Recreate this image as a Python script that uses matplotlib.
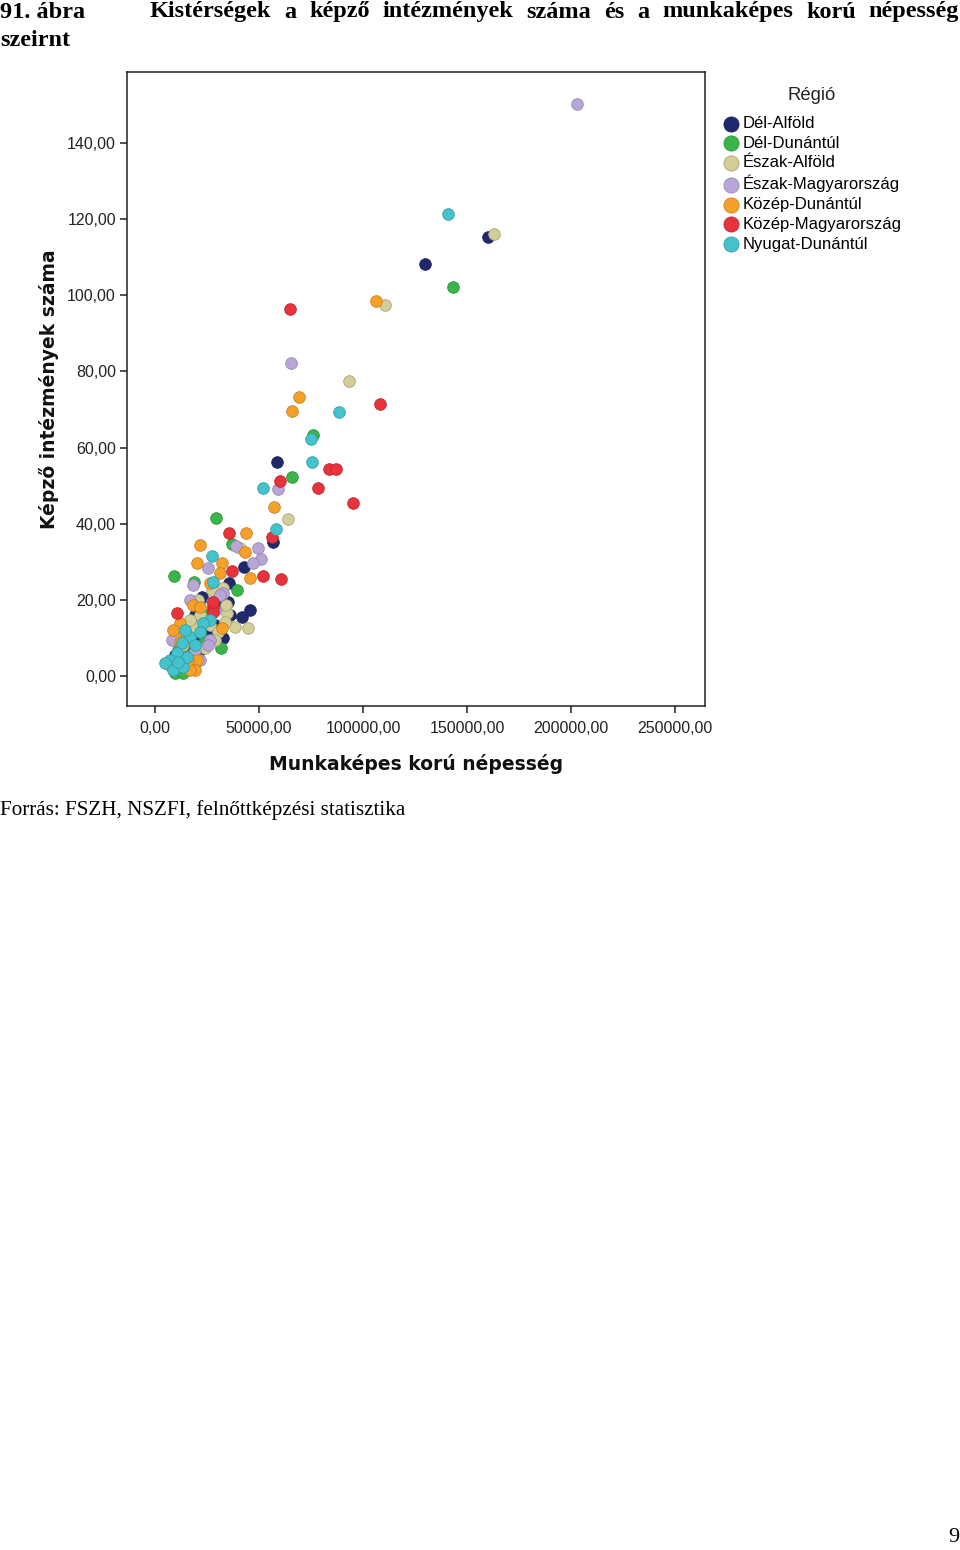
import matplotlib
matplotlib.use("Agg")
import matplotlib.pyplot as plt

# ── Data ──────────────────────────────────────────────────────────
REGIONS = ["Dél-Alföld", "Dél-Dunántúl", "Észak-Alföld", "Észak-Magyarország",
           "Közép-Dunántúl", "Közép-Magyarország", "Nyugat-Dunántúl"]
COLORS  = ["#20296b", "#3bb54a", "#d3ce97", "#b9a6d8",
           "#f6a02a", "#e8323c", "#45c3cc"]

# Munkaképes korú népesség (x) / képző intézmények száma (y)
del_alfold_x = [160100, 129800, 58700, 56700, 42800, 35600, 22600, 36100, 41800,
                45700, 32700, 31700, 20700, 35100, 16800, 14400, 24000, 28800,
                12000, 21600, 27400, 19200, 15900, 9600, 25000]
del_alfold_y = [115.3, 108.2, 56.2, 35.2, 28.6, 24.4, 20.8, 16.0, 15.5,
                17.3, 10.0, 19.4, 8.9, 19.4, 12.1, 6.8, 14.7, 13.4,
                4.2, 6.8, 16.8, 16.0, 8.1, 5.5, 11.6]

del_dunantul_x = [143300, 76000, 65900, 29300, 37000, 9100, 18800, 39400, 31700,
                  9600, 13500, 14400, 21600, 11100, 25500, 16800, 7200, 19200, 24000]
del_dunantul_y = [102.2, 63.3, 52.3, 41.5, 34.7, 26.3, 24.7, 22.6, 7.4,
                  0.8, 0.8, 9.5, 12.6, 6.8, 16.0, 5.5, 2.9, 4.2, 9.5]

eszak_alfold_x = [163000, 110600, 93300, 63900, 40900, 32700, 38500, 44700, 34600,
                  26400, 30300, 24000, 19200, 21600, 34100, 27400, 16800, 13500,
                  28800, 33700, 20700]
eszak_alfold_y = [116.1, 97.5, 77.5, 41.2, 33.6, 23.1, 12.9, 12.6, 16.5,
                  13.4, 11.6, 7.4, 12.6, 16.0, 18.6, 22.6, 14.7, 8.1,
                  9.5, 14.2, 20.0]

eszak_magyar_x = [202900, 65400, 59100, 49500, 51000, 47100, 25500, 18300, 27400,
                  26400, 25500, 38900, 32700, 12000, 14400, 19200, 28800, 16800,
                  8200, 21600, 31300]
eszak_magyar_y = [150.2, 82.2, 49.1, 33.6, 30.7, 29.7, 28.4, 23.9, 19.4,
                  9.5, 8.1, 34.1, 21.8, 12.9, 10.8, 6.8, 17.3, 20.0,
                  9.5, 4.2, 21.3]

kozep_dunantul_x = [106300, 69200, 65900, 57200, 43800, 21600, 43300, 20200, 32200,
                    45700, 26400, 18300, 21600, 32200, 12000, 13500, 20200, 19200,
                    31300, 8700, 12000, 16800, 15900]
kozep_dunantul_y = [98.5, 73.3, 69.6, 44.4, 37.6, 34.4, 32.6, 29.7, 29.7,
                    25.7, 24.4, 18.6, 18.1, 12.6, 13.9, 11.3, 4.2, 1.6,
                    27.1, 12.1, 8.9, 1.6, 4.2]

kozep_magyar_x = [64900, 108200, 83700, 87000, 60100, 78400, 95200, 56300, 35600,
                  37000, 51900, 60600, 10600, 27900, 27900, 27900]
kozep_magyar_y = [96.4, 71.4, 54.4, 54.4, 51.2, 49.4, 45.4, 36.5, 37.6,
                  27.6, 26.3, 25.5, 16.5, 18.1, 16.8, 19.4]

nyugat_dunantul_x = [140900, 88500, 75000, 75500, 51900, 58200, 27400, 27900, 26400,
                     23100, 16800, 13000, 10600, 7200, 4800, 8700, 13500, 15400,
                     19200, 14400, 11100, 21600]
nyugat_dunantul_y = [121.4, 69.3, 62.3, 56.2, 49.4, 38.6, 31.5, 24.7, 14.7,
                     13.9, 10.2, 8.7, 6.0, 4.2, 3.4, 1.6, 2.4, 5.0,
                     8.1, 12.1, 3.7, 11.6]

SERIES_X = [del_alfold_x, del_dunantul_x, eszak_alfold_x, eszak_magyar_x,
            kozep_dunantul_x, kozep_magyar_x, nyugat_dunantul_x]
SERIES_Y = [del_alfold_y, del_dunantul_y, eszak_alfold_y, eszak_magyar_y,
            kozep_dunantul_y, kozep_magyar_y, nyugat_dunantul_y]

X_TICKS = [0, 50000, 100000, 150000, 200000, 250000]
Y_TICKS = [0, 20, 40, 60, 80, 100, 120, 140]

TITLE_NUM  = "91. ábra"
TITLE_TEXT = "Kistérségek a képző intézmények száma és a munkaképes korú népesség"
TITLE_CONT = "szeirnt"
SOURCE     = "Forrás: FSZH, NSZFI, felnőttképzési statisztika"

W, H = 960, 1550


def darker(hex_color, f=0.8):
    c = [int(hex_color[i:i + 2], 16) / 255 for i in (1, 3, 5)]
    return tuple(v * f for v in c)


fig = plt.figure(figsize=(W / 100, H / 100), dpi=100)
fig.patch.set_facecolor("white")

# ── Scatter panel ─────────────────────────────────────────────────
ax = fig.add_axes([127 / W, 1 - 706 / H, (705 - 127) / W, (706 - 72) / H])
handles = []
for name, col, xs, ys in zip(REGIONS, COLORS, SERIES_X, SERIES_Y):
    h = ax.scatter(xs, ys, s=70, color=col, edgecolors=[darker(col)],
                   linewidths=0.6, label=name, zorder=3)
    handles.append(h)

ax.set_xlim(-13400, 264400)
ax.set_ylim(-7.9, 158.7)
ax.set_xticks(X_TICKS)
ax.set_yticks(Y_TICKS)
ax.set_xticklabels([f"{v},00" for v in X_TICKS])
ax.set_yticklabels([f"{v},00" for v in Y_TICKS])
ax.tick_params(length=5, width=1.1, pad=3, labelsize=11.5, colors="#222222")
ax.tick_params(axis="x", pad=6)
for lab in ax.get_xticklabels() + ax.get_yticklabels():
    lab.set_family("Liberation Sans")
for sp in ax.spines.values():
    sp.set_linewidth(1.1)
    sp.set_color("#222222")

ax.set_xlabel("Munkaképes korú népesség", fontsize=13.5, fontweight="bold",
              family="DejaVu Sans", labelpad=13, color="#111111")
ax.set_ylabel("Képző intézmények száma", fontsize=13.5, fontweight="bold",
              family="DejaVu Sans", labelpad=6, color="#111111")

# ── Legend ────────────────────────────────────────────────────────
fig.text(812 / W, 1 - 95 / H, "Régió", ha="center", va="center",
         fontsize=13.3, family="Liberation Sans", color="#222222")
leg = fig.legend(handles=handles, loc="upper left",
                 bbox_to_anchor=(723 / W, 1 - 116 / H),
                 frameon=False, borderpad=0, borderaxespad=0,
                 handlelength=1.0, handletextpad=0.15, labelspacing=0.28,
                 markerscale=1.3, prop={"family": "Liberation Sans", "size": 12})

# ── Page text ─────────────────────────────────────────────────────
serif = "Liberation Serif"
fig.text(0, 1 - 12 / H, TITLE_NUM, ha="left", va="center", fontsize=17.5,
         fontweight="bold", family=serif)
fig.text(0, 1 - 40 / H, TITLE_CONT, ha="left", va="center", fontsize=17.5,
         fontweight="bold", family=serif)

# justified title line between x=150 and x=959
renderer = fig.canvas.get_renderer()
words = TITLE_TEXT.split()
objs = [fig.text(0, 1 - 12 / H, w, ha="left", va="center", fontsize=17.5,
                 fontweight="bold", family=serif) for w in words]
widths = [o.get_window_extent(renderer).width for o in objs]
gap = (959 - 150 - sum(widths)) / (len(words) - 1)
xpos = 150
for o, wd in zip(objs, widths):
    o.set_x(xpos / W)
    xpos += wd + gap

fig.text(0, 1 - 810 / H, SOURCE, ha="left", va="center", fontsize=15.2, family=serif)
fig.text(959 / W, 1 - 1538 / H, "9", ha="right", va="center", fontsize=16, family=serif)

fig.savefig("out.png", dpi=100)
